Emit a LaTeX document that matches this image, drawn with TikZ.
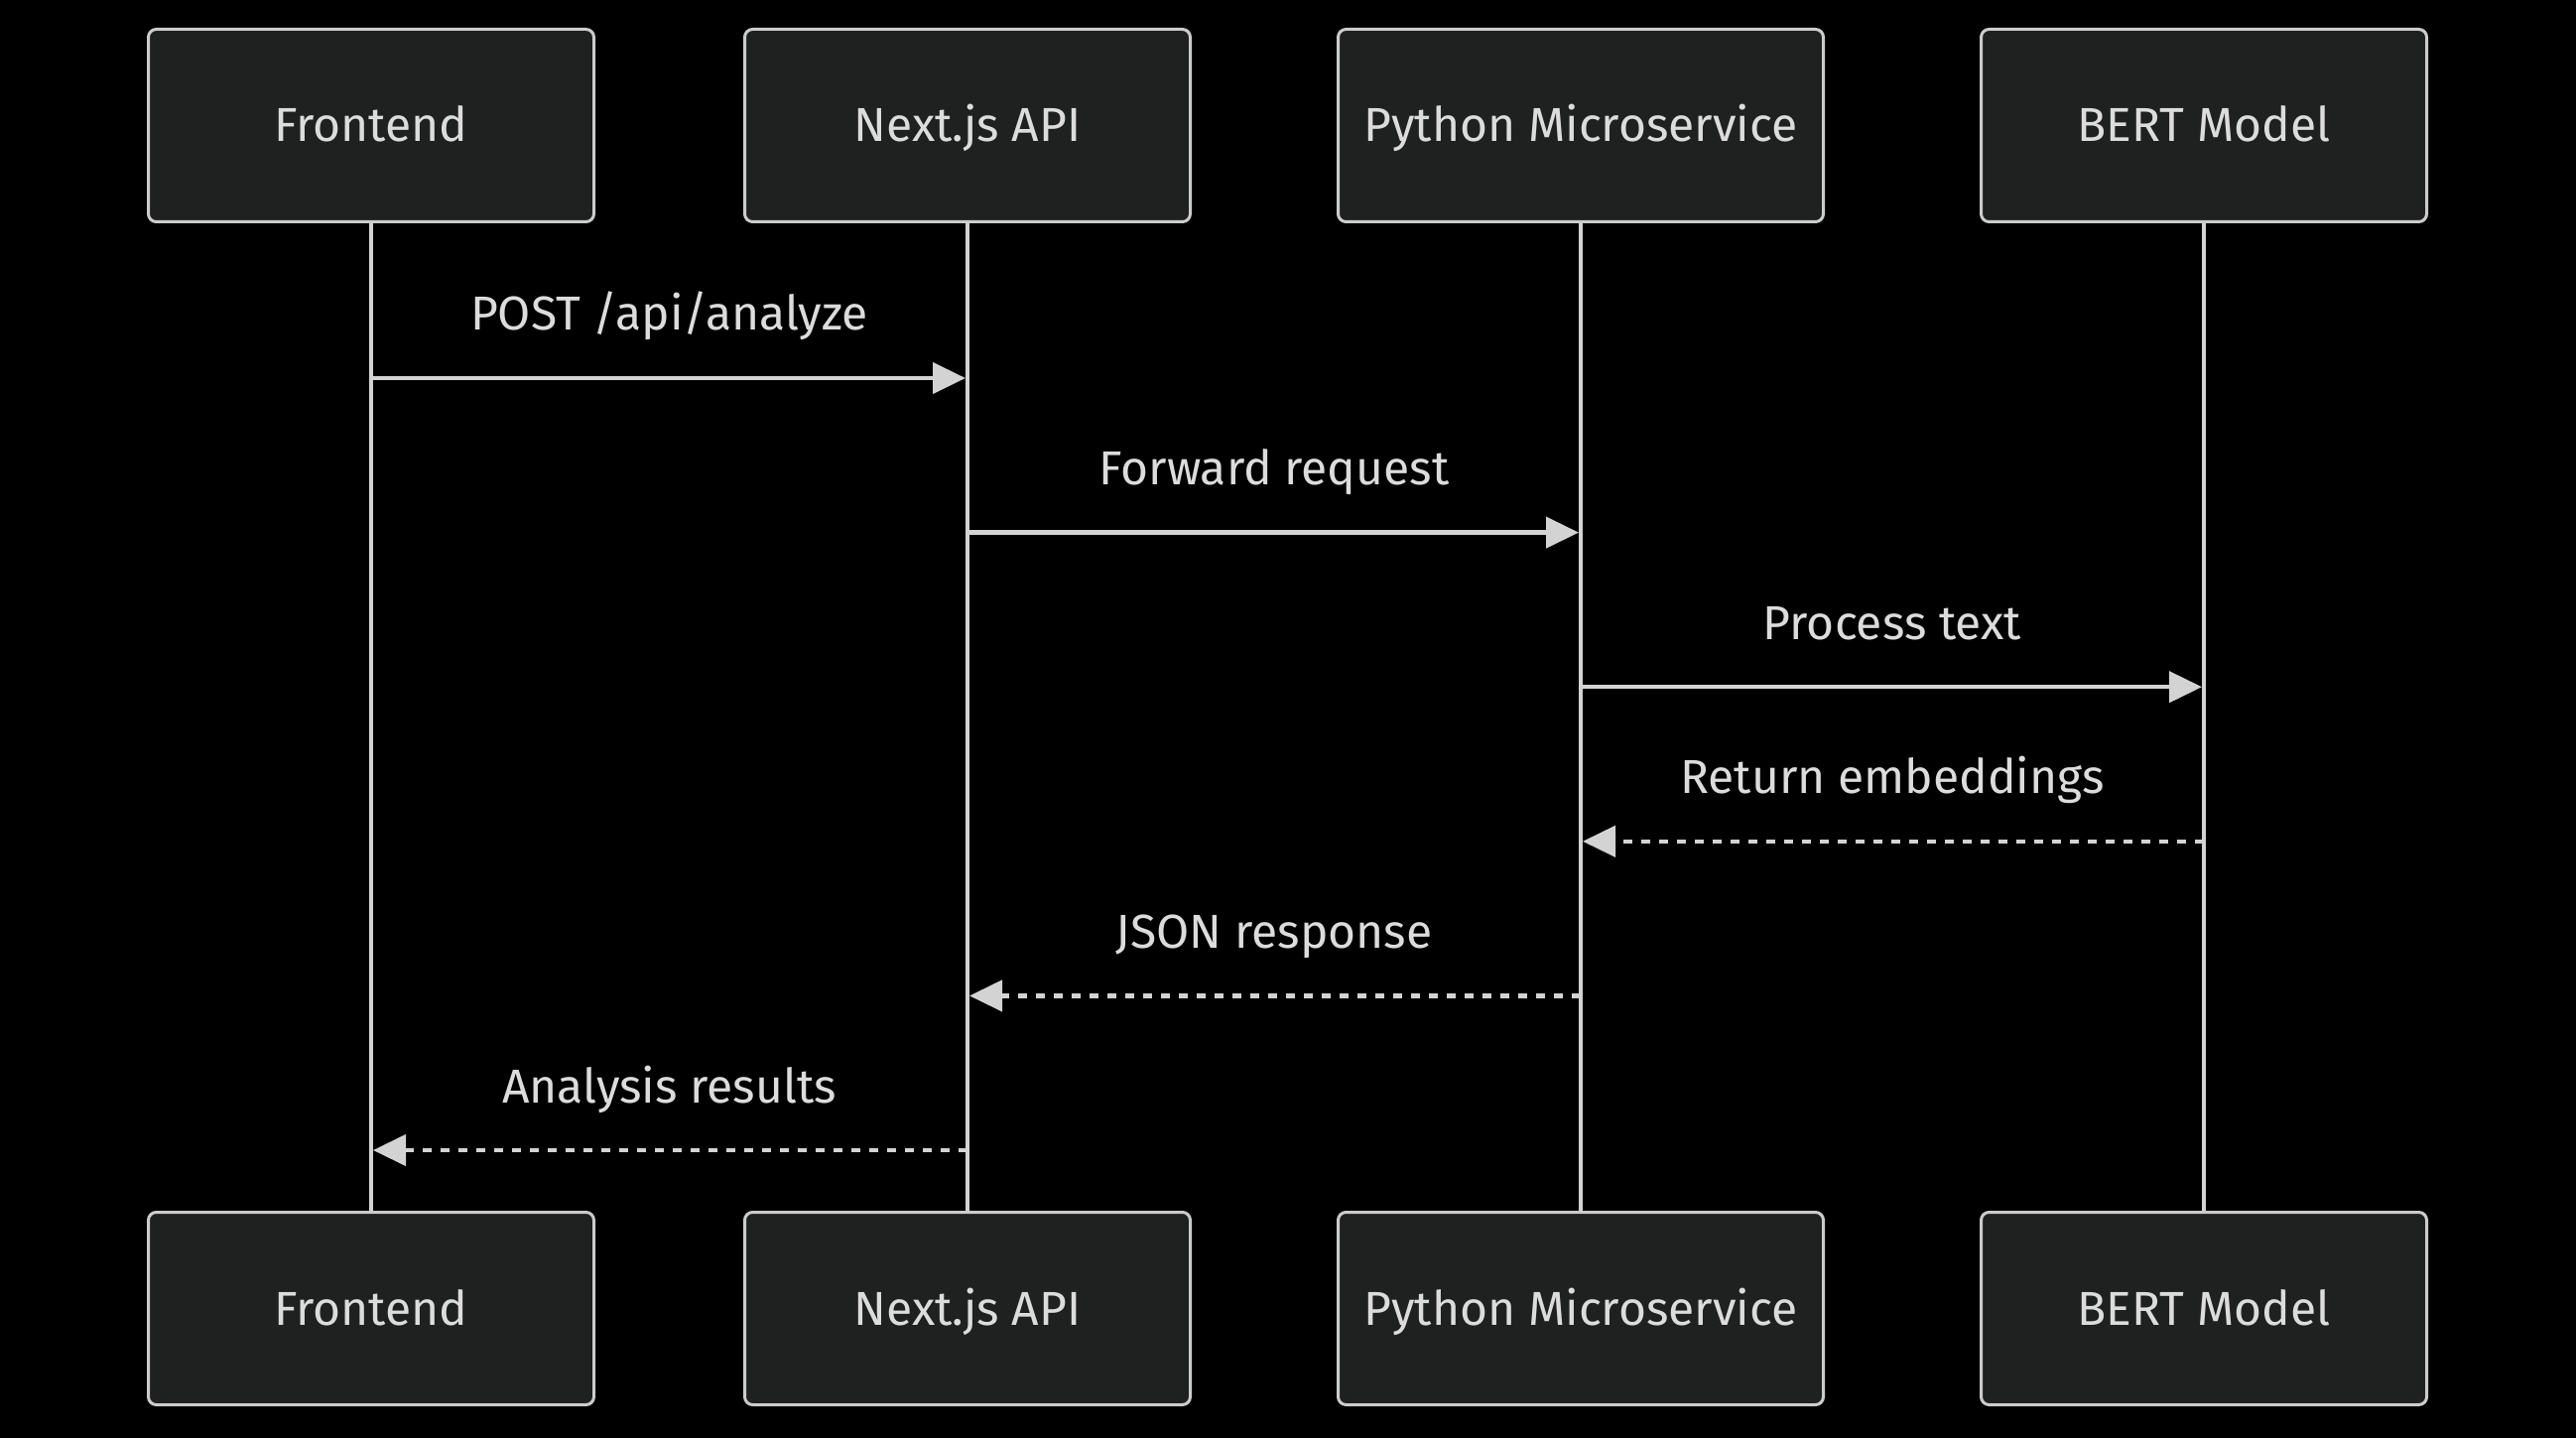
\documentclass[tikz,border=0pt]{standalone}
\usepackage{fontspec}
\setmainfont{Fira Sans}
\usetikzlibrary{arrows.meta,positioning}
\definecolor{actorfill}{HTML}{1F2020}
\definecolor{actorline}{HTML}{CCCCCC}
\definecolor{seqline}{HTML}{D3D3D3}
\definecolor{seqtext}{HTML}{DCDCDC}
\tikzset{
actorbox/.style={
  rectangle,
  rounded corners=4pt,
  line width=1.5pt,
  draw=actorline,
  fill=actorfill,
  text=seqtext,
  text height=17pt,
  text depth=0.5pt,
  minimum width=224.5pt,
  minimum height=97pt,
  font=\fontsize{24}{28}\selectfont,
  }
}
\tikzset{
lifeline/.style={
  line width=2.25pt,
  draw=seqline,
  }
}
\tikzset{
msgline/.style={
  line width=2.2pt,
  draw=seqline,
  shorten >=1pt,
  -{Triangle[length=16.5pt,width=15.5pt]}
  }
}
\tikzset{
replyline/.style={
  msgline,
  dash pattern=on 4.5pt off 4.5pt,
  }
}
\tikzset{
msglabel/.style={
  pos=0.5,
  anchor=base,
  yshift=24pt,
  text=seqtext,
  font=\fontsize{24}{28}\selectfont,
  }
}

\begin{document}
\begin{tikzpicture}[x=0.5pt,y=-0.5pt]
    \fill[black] (0,0) rectangle (2596,1449);
    \useasboundingbox (0,0) rectangle (2596,1449);

    % actors on top
    \node[actorbox] (front) at (374,126.5) {Frontend};
    \node[actorbox] (nextapi) at (975,126.5) {Next.js API};
    \node[actorbox, minimum width=244.5pt] (pyserv) at (1593,126.5) {Python Microservice};
    \node[actorbox] (bert) at (2221,126.5) {BERT Model};

    % actors at the bottom
    \node[actorbox] (frontb) at (374,1318.5) {Frontend};
    \node[actorbox] (nextapib) at (975,1318.5) {Next.js API};
    \node[actorbox, minimum width=244.5pt] (pyservb) at (1593,1318.5) {Python Microservice};
    \node[actorbox] (bertb) at (2221,1318.5) {BERT Model};

    % lifelines
    \draw[lifeline] (front) -- (frontb);
    \draw[lifeline] (nextapi) -- (nextapib);
    \draw[lifeline] (pyserv) -- (pyservb);
    \draw[lifeline] (bert) -- (bertb);

    % message rows
    \coordinate (m1) at (0,381);
    \coordinate (m2) at (0,536.6);
    \coordinate (m3) at (0,692.2);
    \coordinate (m4) at (0,847.8);
    \coordinate (m5) at (0,1003.4);
    \coordinate (m6) at (0,1159);

    % requests
    \draw[msgline] (front |- m1) -- (nextapi |- m1) node[msglabel] (l1) {POST /api/analyze};
    \draw[msgline] (nextapi |- m2) -- (pyserv |- m2) node[msglabel] (l2) {Forward request};
    \draw[msgline] (pyserv |- m3) -- (bert |- m3) node[msglabel] (l3) {Process text};

    % replies
    \draw[replyline] (bert |- m4) -- (pyserv |- m4) node[msglabel] (l4) {Return embeddings};
    \draw[replyline] (pyserv |- m5) -- (nextapi |- m5) node[msglabel] (l5) {JSON response};
    \draw[replyline] (nextapi |- m6) -- (front |- m6) node[msglabel] (l6) {Analysis results};
  \end{tikzpicture}
\end{document}
